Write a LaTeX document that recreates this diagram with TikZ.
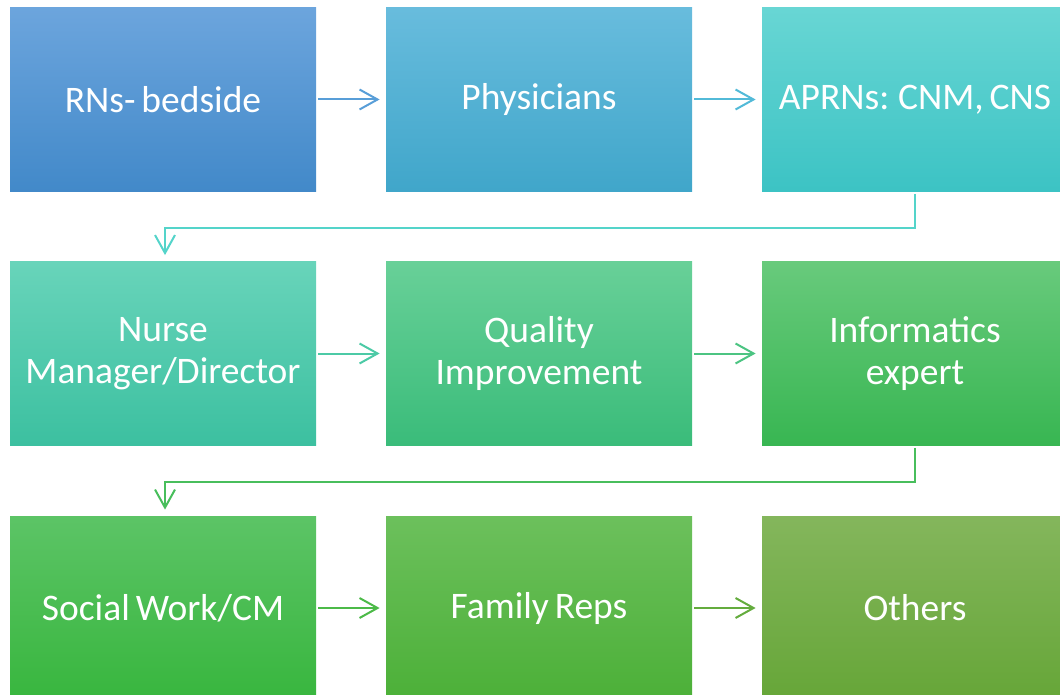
\documentclass[tikz,border=0pt]{standalone}
\usepackage{fontspec}
\setmainfont{Carlito}[WordSpace={0.7,0,0}]
\usetikzlibrary{arrows.meta,positioning,calc}

\begin{document}
\begin{tikzpicture}[x=0.5pt, y=-0.5pt,
        stagebox/.style={rectangle, minimum width=153pt, minimum height=92pt,
            inner sep=0pt, text=white, align=center,
            font=\fontsize{18.75pt}{21pt}\selectfont},
        flow/.style={line width=1pt, -{Straight Barb[length=9pt, width=10pt, line width=1pt]},
            shorten <=1pt, shorten >=3pt}]
                \definecolor{rnTop}{RGB}{108,165,221}
                \definecolor{rnBot}{RGB}{66,137,201}
                \definecolor{phTop}{RGB}{104,188,221}
                \definecolor{phBot}{RGB}{64,166,202}
                \definecolor{apTop}{RGB}{104,214,212}
                \definecolor{apBot}{RGB}{60,195,196}
                \definecolor{nmTop}{RGB}{104,212,186}
                \definecolor{nmBot}{RGB}{60,192,160}
                \definecolor{qiTop}{RGB}{104,208,152}
                \definecolor{qiBot}{RGB}{58,188,122}
                \definecolor{ieTop}{RGB}{104,202,124}
                \definecolor{ieBot}{RGB}{56,182,82}
                \definecolor{swTop}{RGB}{92,196,102}
                \definecolor{swBot}{RGB}{56,182,62}
                \definecolor{frTop}{RGB}{108,192,92}
                \definecolor{frBot}{RGB}{76,176,56}
                \definecolor{otTop}{RGB}{132,182,92}
                \definecolor{otBot}{RGB}{102,166,56}

                % page frame, right column and bottom row run off the edge
                \useasboundingbox (0,0) rectangle (1060,695);
                \clip (0,0) rectangle (1060,695);

                % Row 1
                \node[stagebox, top color=rnTop, bottom color=rnBot] (rn) at (163, 99.5) {RNs- bedside};
                \node[stagebox, top color=phTop, bottom color=phBot] (phys) at (539, 99.5) {Physicians};
                \node[stagebox, top color=apTop, bottom color=apBot] (aprn) at (915, 99.5) {APRNs: CNM, CNS};

                % Row 2
                \node[stagebox, top color=nmTop, bottom color=nmBot] (nurse) at (163, 353.5) {Nurse\\Manager/Director};
                \node[stagebox, top color=qiTop, bottom color=qiBot] (quality) at (539, 353.5) {Quality\\Improvement};
                \node[stagebox, top color=ieTop, bottom color=ieBot] (informatics) at (915, 353.5) {Informatics\\expert};

                % Row 3
                \node[stagebox, top color=swTop, bottom color=swBot] (social) at (163, 608) {Social Work/CM};
                \node[stagebox, top color=frTop, bottom color=frBot] (family) at (539, 608) {Family Reps};
                \node[stagebox, top color=otTop, bottom color=otBot] (others) at (915, 608) {Others};

                % Arrows along each row
                \draw[flow, color={rgb,255:red,88;green,158;blue,216}] (rn) -- (phys);
                \draw[flow, color={rgb,255:red,82;green,186;blue,216}] (phys) -- (aprn);
                \draw[flow, color={rgb,255:red,76;green,202;blue,166}] (nurse) -- (quality);
                \draw[flow, color={rgb,255:red,76;green,196;blue,130}] (quality) -- (informatics);
                \draw[flow, color={rgb,255:red,76;green,186;blue,72}] (social) -- (family);
                \draw[flow, color={rgb,255:red,100;green,172;blue,62}] (family) -- (others);

                % Elbow connectors down to the next row
                \draw[flow, color={rgb,255:red,84;green,212;blue,202}] (aprn.south) -- ++(0,36) -| ([xshift=1pt]nurse.north);
                \draw[flow, color={rgb,255:red,72;green,190;blue,92}] (informatics.south) -- ++(0,36) -| ([xshift=1pt]social.north);
            \end{tikzpicture}
\end{document}
